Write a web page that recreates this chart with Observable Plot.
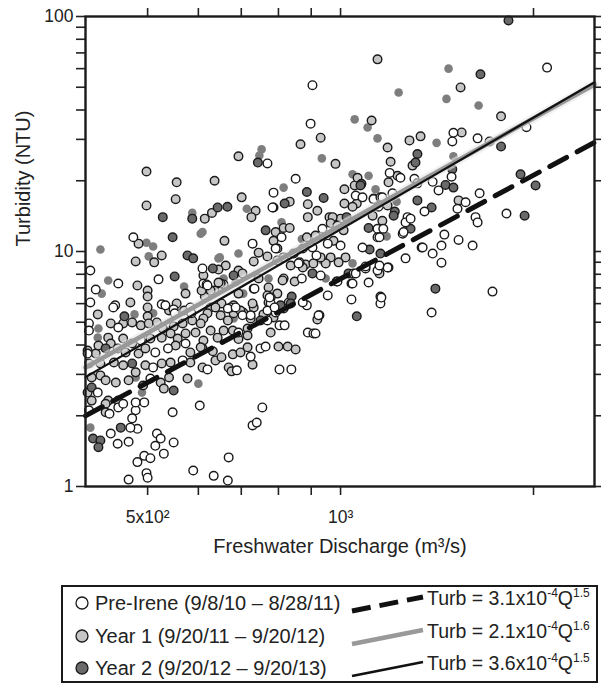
<!DOCTYPE html>
<html><head><meta charset="utf-8">
<script src="https://cdn.jsdelivr.net/npm/d3@7"></script>
<script src="https://cdn.jsdelivr.net/npm/@observablehq/plot@0.6"></script>
<style>
body{margin:0;background:#fff;font-family:"Liberation Sans",Arial,sans-serif;}
#chart{width:601px;height:684px;}
#chart svg{display:block;}
</style></head><body><div id="chart"></div>
<script>
// Discharge Q (m3/s), turbidity T (NTU)
const preIrene = [[2100,60.6],[904,51],[1950,33.8],[898,35],[1500,32],[1494,29.4],[1636,30.3],[1490,20.8],[769,23.7],[851,20.4],[786,17.8],[1126,16.7],[1154,17],[1193,21.6],[1240,20.6],[1304,20.4],[1318,19.5],[1205,17.7],[1392,19.8],[1422,18.2],[1567,16.2],[1522,15.2],[1648,17.7],[1815,14.5],[1624,14],[1636,13.3],[1142,11.5],[1272,14],[1263,13.3],[1250,11.9],[1352,14.8],[1452,11.8],[1528,11.2],[1607,10.6],[1338,10.4],[1392,9.8],[1437,10.6],[1082,10.4],[1263,9.35],[1437,8.96],[1726,6.75],[1387,5.5],[1154,6.43],[1154,6.01],[1040,6.25],[1106,7.38],[1188,8.55],[1094,8.47],[1040,7.31],[1048,8.07],[986,7.45],[955,6.5],[889,4.52],[907,4.48],[927,5.35],[886,5.9],[873,6.07],[917,9.62],[783,15.4],[809,11.5],[792,10.3],[729,10.8],[475,11.5],[407,8.3],[520,7.61],[611,7.31],[450,7.31],[415,6.89],[407,6.07],[445,5.9],[442,5.78],[526,5.96],[533,5.9],[549,5.67],[583,5.78],[609,8.47],[618,7.24],[674,5.78],[778,6.37],[778,6.01],[732,6.95],[863,8.99],[405,4.94],[405,4.61],[403,3.68],[479,2.11],[473,1.95],[482,1.76],[470,1.78],[438,1.68],[449,1.52],[467,1.55],[517,1.68],[524,1.6],[514,1.49],[530,1.38],[549,1.54],[494,1.35],[505,1.32],[482,1.27],[589,1.17],[498,1.14],[500,1.09],[467,1.07],[547,2.07],[603,2.21],[479,2.28],[494,2.28],[755,2.17],[729,1.82],[740,1.87],[669,1.33],[634,1.11],[667,1.06],[450,2.17],[436,2.04],[803,3.15],[838,3.15],[750,3.87],[764,3.94],[724,3.57],[689,3.12],[620,3.15],[803,4.85],[818,4.85],[488,4.18],[514,3.72],[538,3.87],[573,4.06],[510,3.21],[567,3.44],[505,2.88],[418,2.51],[458,2.25],[405,2.11],[551,5.46],[585,5.46],[450,4.75],[667,5.72],[769,5.61],[792,5.5],[703,5.35],[769,5.09],[693,4.52],[870,7.68],[1094,8.64],[1142,8.3],[1184,8.55],[931,7.91],[989,7.45],[1044,7.31],[1056,8.07],[1158,6.37],[924,5.35],[914,4.48],[1056,17.3],[1082,17],[1146,15.5],[1162,17],[937,12.5],[955,10.8],[1000,10.6],[1142,12.5],[1166,12.5],[1150,11.5],[1286,13.8],[1254,12.1],[1150,8.72],[1343,10.4],[860,8.9],[686,5.78],[789,5.78],[734,6.95],[775,6.37],[620,7.17],[724,5.35],[904,10.4]];

const year1 = [[866,28.6],[693,25.4],[498,21.9],[636,20],[555,19.7],[498,15.7],[553,16.7],[701,17],[614,13.8],[630,14.6],[737,14.9],[726,14],[833,16.3],[484,10.8],[659,11.1],[792,12.1],[815,12.6],[833,12.6],[786,11.1],[526,9.62],[745,9.89],[769,9.53],[512,8.99],[479,9.07],[482,7.17],[500,6.82],[500,6.43],[573,6.62],[470,6.07],[500,5.78],[555,6.01],[418,5.4],[500,5.3],[540,5.61],[570,5.61],[1142,65.7],[1539,49.9],[1780,37.6],[1118,36.1],[931,30.5],[1184,27.7],[1281,29.7],[1333,30.9],[1545,32.1],[1708,29.4],[982,23.6],[1197,24.1],[1295,23.2],[1014,18.4],[1052,19.1],[1063,20.6],[1188,19.7],[1227,21],[1528,16.5],[1060,16],[1014,16],[1044,15.5],[889,15.9],[920,14.9],[889,14],[961,14],[1000,13.8],[972,14],[965,13.2],[989,12.9],[1011,12.3],[931,11.7],[975,11.1],[1126,16.8],[1184,15.7],[1162,13.5],[1122,14.2],[1018,9.44],[993,8.99],[965,9.44],[948,8.9],[931,9.44],[882,8.81],[1150,8.07],[920,5.14],[907,8.9],[873,8.55],[836,8.72],[815,9.44],[845,9.8],[797,9.16],[797,10.3],[886,11.5],[914,11.7],[873,10.3],[815,7.68],[848,7.45],[662,8.72],[645,8.38],[693,8.3],[732,9.07],[636,6.82],[657,7.24],[772,7.03],[797,6.62],[614,6.43],[627,5.78],[652,6.01],[705,5.5],[732,5.78],[758,5.4],[620,5.46],[650,5.35],[681,5.46],[611,7.91],[703,8.07],[745,7.68],[812,7.53],[616,7.17],[627,6.82],[650,7.31],[769,6.5],[772,6.07],[830,6.07],[638,5.78],[681,5.9],[698,5.61],[729,6.01],[815,5.72],[611,5.19],[667,5.09],[724,5.19],[786,5.24],[627,4.61],[657,4.61],[643,4.3],[679,4.61],[716,4.7],[716,4.39],[778,4.52],[611,4.18],[693,4.24],[609,3.87],[632,3.76],[679,3.65],[698,3.72],[716,3.91],[638,3.44],[652,3.55],[669,3.21],[676,3.09],[609,3.21],[800,3.94],[827,3.94],[851,3.83],[729,3.3],[438,4.94],[458,4.94],[473,4.99],[488,4.85],[502,4.94],[517,4.99],[528,4.7],[549,4.8],[567,4.94],[587,5.09],[605,4.94],[434,4.3],[438,4.06],[458,4.26],[473,4.06],[505,4.26],[526,4.3],[543,4.48],[557,4.26],[573,4.48],[594,4.52],[403,3.79],[415,3.68],[419,3.98],[449,3.87],[462,3.72],[484,3.68],[496,3.87],[553,3.98],[583,3.72],[605,3.91],[405,3.34],[422,3.34],[443,3.37],[458,3.28],[479,3.06],[496,3.28],[526,3.34],[543,3.37],[583,3.37],[409,2.91],[422,2.97],[430,2.83],[446,2.77],[467,2.83],[492,2.69],[524,2.77],[540,2.91],[530,2.61],[577,2.88],[403,2.51],[434,2.32],[430,2.25],[409,2.32],[430,2.07],[450,2.32],[607,6.82],[645,7.38],[693,6.62]];

const year2 = [[1828,96.2],[1653,56.8],[1780,28],[1318,26],[1309,23.9],[1494,22.4],[886,17.9],[1078,19.4],[1318,16.5],[1458,19.2],[1500,18.7],[1909,21.3],[2015,19.1],[1937,14.2],[941,16.9],[1106,12.6],[1215,14.8],[1286,12.5],[1387,15.4],[1110,10.2],[1154,9.8],[1022,14],[1074,19.1],[1406,6.95],[1060,5.3],[904,8.07],[1029,8.07],[743,23.9],[528,14],[587,13.8],[643,15.4],[666,15.5],[786,15.4],[818,16],[547,11.5],[764,12.3],[577,9.62],[589,9.35],[551,7.83],[632,8.47],[681,7.91],[839,6.43],[806,5.9],[836,6.01],[750,5.09],[460,5.3],[430,3.87],[473,3.34],[549,2.56],[409,2.64],[454,1.78],[411,1.6],[422,1.57],[419,1.47],[1210,14.2]];

// filled grey dots drawn without an outline
const unoutlined = [[1474,60],[1232,47.5],[1463,44.6],[1642,41.8],[1052,36.5],[1102,33.7],[1142,30.3],[1412,29],[935,24.9],[1500,25.4],[1044,21.3],[1106,21],[1134,18.4],[1223,16.3],[1180,11.6],[753,27.2],[747,25.6],[815,18.7],[587,14.6],[714,15.2],[809,13.3],[605,11.9],[498,10.9],[510,10.5],[422,10.2],[693,9.8],[502,9.53],[648,9.44],[434,7.53],[424,6.62],[570,7.1],[705,6.62],[772,7.68],[657,7.68],[794,6.62],[681,5.19],[477,5.4],[510,5.46],[419,4.7],[418,4.3],[479,2.91],[490,2.51],[450,2.21],[407,1.78],[600,2.74],[609,12.1],[645,9.35],[937,9.16],[1044,8.9],[948,7.68],[870,11.3],[686,7.38]];

// regression lines as drawn: [Q, Turb] at the two ends of the plotted range
const fitPre = [[400,2.0],[2490,29.1]];
const fitYear1 = [[400,3.21],[2490,51.4]];
const fitYear2 = [[400,2.92],[2490,52.5]];

const xTicks = [500,600,700,800,900,1000,2000];
const xTickLabels = {500:"5x10²", 1000:"10³"};
const yTicks = [1,2,3,4,5,6,7,8,9,10,20,30,40,50,60,70,80,90,100];
const yTickLabels = {1:"1", 10:"10", 100:"100"};
const xTitle = "Freshwater Discharge (m³/s)";
const yTitle = "Turbidity (NTU)";
const seriesLabels = ["Pre-Irene (9/8/10 – 8/28/11)", "Year 1 (9/20/11 – 9/20/12)", "Year 2 (9/20/12 – 9/20/13)"];
const eqCoef = ["3.1", "2.1", "3.6"];
const eqExp10 = ["-4", "-4", "-4"];
const eqExpQ = ["1.5", "1.6", "1.5"];

const FONT = "Liberation Sans, Arial, Helvetica, sans-serif";
const INK = "#1a1a1a";
const fills = ["#ffffff", "#c6c6c6", "#6a6a6a"];

const X = d => d[0], Y = d => d[1];

const plot = Plot.plot({
  width: 601, height: 570,
  marginTop: 16, marginLeft: 85, marginRight: 7, marginBottom: 84,
  style: {fontFamily: FONT, fontSize: "17.5px", color: "#222", background: "#fff", overflow: "visible"},
  x: {type: "log", domain: [400, 2490]},
  y: {type: "log", domain: [1, 100]},
  marks: [
    Plot.dot(unoutlined, {x: X, y: Y, r: 4.3, fill: "#7e7e7e", stroke: "none"}),
    Plot.dot(year1, {x: X, y: Y, r: 4.3, fill: fills[1], stroke: INK, strokeWidth: 1.4}),
    Plot.dot(year2, {x: X, y: Y, r: 4.3, fill: fills[2], stroke: INK, strokeWidth: 1.4}),
    Plot.dot(preIrene, {x: X, y: Y, r: 4.3, fill: fills[0], stroke: INK, strokeWidth: 1.4}),
    Plot.line(fitPre, {x: X, y: Y, stroke: "#111", strokeWidth: 5, strokeDasharray: "19,12"}),
    Plot.line(fitYear1, {x: X, y: Y, stroke: "#e8e8e8", strokeWidth: 9, strokeOpacity: 0.6}),
    Plot.line(fitYear1, {x: X, y: Y, stroke: "#999999", strokeWidth: 4.5}),
    Plot.line(fitYear2, {x: X, y: Y, stroke: "#111", strokeWidth: 2.2}),
    Plot.axisY(yTicks, {anchor: "left", tickSize: 9, tickPadding: 3, strokeWidth: 1.6, tickFormat: d => yTickLabels[d] ?? "", label: null, fontSize: 17.5}),
    Plot.axisY(yTicks, {anchor: "right", tickSize: 8, strokeWidth: 1.6, tickFormat: () => "", label: null}),
    Plot.axisX(xTicks, {anchor: "bottom", tickSize: 9, tickPadding: 15, strokeWidth: 1.6, tickFormat: d => xTickLabels[d] ?? "", label: null, fontSize: 17.5}),
    Plot.axisX(xTicks, {anchor: "top", tickSize: 9, strokeWidth: 1.6, tickFormat: () => "", label: null}),
    Plot.frame({stroke: INK, strokeWidth: 2.4}),
    Plot.text([xTitle], {frameAnchor: "bottom", dy: 66, fontSize: 20, fill: "#222"}),
    Plot.text([yTitle], {frameAnchor: "left", dx: -62, dy: -5, rotate: -90, fontSize: 20, fill: "#222"})
  ]
});
document.getElementById("chart").appendChild(plot);

// Legend (below the plot SVG)
const leg = d3.create("svg").attr("width", 601).attr("height", 114)
  .style("font-family", FONT).style("background", "#fff");
leg.append("rect").attr("x", 62).attr("y", 16).attr("width", 535).attr("height", 96)
  .attr("fill", "none").attr("stroke", INK).attr("stroke-width", 2);
const rowY = [33, 66, 98];
const lineStyles = [
  {stroke: "#111", w: 5, dash: "19,9"},
  {stroke: "#999999", w: 4.5, dash: null},
  {stroke: "#111", w: 2.8, dash: null}
];
seriesLabels.forEach((lab, i) => {
  const y = rowY[i];
  leg.append("circle").attr("cx", 82).attr("cy", y).attr("r", 6)
    .attr("fill", fills[i]).attr("stroke", INK).attr("stroke-width", 1.3);
  leg.append("text").attr("x", 95).attr("y", y + 7).attr("font-size", 20).attr("fill", "#222").text(lab);
  const ls = lineStyles[i];
  const l = leg.append("line").attr("x1", 352).attr("y1", y + 8).attr("x2", 423).attr("y2", y - 6)
    .attr("stroke", ls.stroke).attr("stroke-width", ls.w);
  if (ls.dash) l.attr("stroke-dasharray", ls.dash);
  const t = leg.append("text").attr("x", 427).attr("y", y + 2).attr("font-size", 19.5).attr("fill", "#222");
  t.append("tspan").text("Turb = " + eqCoef[i] + "x10");
  t.append("tspan").attr("dy", -8).attr("font-size", 12).text(eqExp10[i]);
  t.append("tspan").attr("dy", 8).text("Q");
  t.append("tspan").attr("dy", -8).attr("font-size", 12).text(eqExpQ[i]);
});
document.getElementById("chart").appendChild(leg.node());
</script>
</body></html>
